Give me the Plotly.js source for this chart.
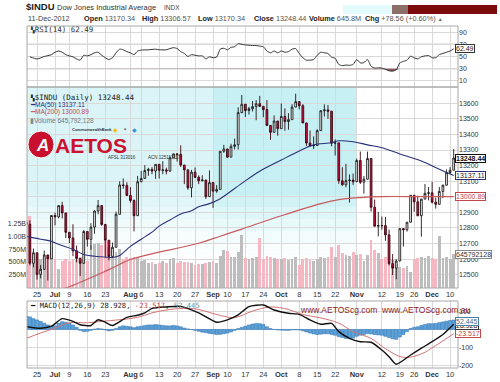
<!DOCTYPE html>
<html><head><meta charset="utf-8">
<script src="https://cdn.plot.ly/plotly-3.0.1.min.js"></script>
<style>html,body{margin:0;padding:0;background:#fff;}#chart{width:500px;height:382px;}</style>
</head><body><div id="chart"></div>
<script>
// ---------- DATA ----------
const dates = ['06-20','06-21','06-22','06-25','06-26','06-27','06-28','06-29',
'07-02','07-03','07-05','07-06','07-09','07-10','07-11','07-12','07-13','07-16','07-17','07-18','07-19','07-20','07-23','07-24','07-25','07-26','07-27','07-30','07-31',
'08-01','08-02','08-03','08-06','08-07','08-08','08-09','08-10','08-13','08-14','08-15','08-16','08-17','08-20','08-21','08-22','08-23','08-24','08-27','08-28','08-29','08-30','08-31',
'09-04','09-05','09-06','09-07','09-10','09-11','09-12','09-13','09-14','09-17','09-18','09-19','09-20','09-21','09-24','09-25','09-26','09-27','09-28',
'10-01','10-02','10-03','10-04','10-05','10-08','10-09','10-10','10-11','10-12','10-15','10-16','10-17','10-18','10-19','10-22','10-23','10-24','10-25','10-26','10-31',
'11-01','11-02','11-05','11-06','11-07','11-08','11-09','11-12','11-13','11-14','11-15','11-16','11-19','11-20','11-21','11-23','11-26','11-27','11-28','11-29','11-30',
'12-03','12-04','12-05','12-06','12-07','12-10','12-11'];

const prevClose0 = 12837.33;
const openP = [12837.33,12824.39,12573.57,12640.78,12502.66,12534.67,12627.01,12602.26,
12880.09,12871.39,12943.36,12896.67,12772.47,12736.29,12653.12,12604.53,12573.27,12777.09,12727.21,12805.54,12908.70,12943.33,12822.57,12721.46,12617.32,12676.05,12887.93,13075.66,13073.01,
13008.68,12976.13,12878.88,13096.17,13117.51,13168.60,13175.64,13165.19,13207.95,13169.43,13172.14,13164.78,13250.11,13275.20,13271.64,13203.58,13172.76,13057.46,13157.97,13124.67,13102.99,13107.48,13000.71,
13090.84,13035.94,13047.48,13292.00,13306.64,13254.29,13323.36,13333.35,13539.86,13593.37,13553.10,13564.64,13577.96,13596.93,13579.47,13558.92,13457.55,13413.51,13485.97,
13437.13,13515.11,13482.36,13494.61,13575.36,13610.15,13583.65,13473.53,13344.97,13326.39,13328.85,13424.23,13551.78,13557.00,13548.94,13343.51,13345.89,13102.53,13077.34,13103.68,13107.21,
13096.46,13232.62,13093.16,13112.44,13245.68,12932.73,12811.32,12815.39,12815.08,12756.18,12570.95,12542.38,12588.31,12795.96,12788.51,12836.89,13009.68,12967.37,12878.13,12985.11,13021.82,
13025.58,12965.60,12951.78,13034.49,13074.04,13155.13,13170.34];
const highP = [12902,12849,12668,12641,12563,12655,12627,12880,
12898,12945,12968,12897,12772,12824,12687,12606,12786,12777,12830,12913,12979,12943,12823,12721,12706,12905,13099,13118,13093,
13062,12983,13134,13166,13203,13186,13190,13208,13208,13228,13187,13260,13276,13276,13330,13204,13173,13173,13188,13137,13138,13107,13169,
13092,13075,13292,13333,13307,13340,13373,13574,13653,13593,13577,13614,13620,13647,13583,13620,13458,13522,13486,
13598,13567,13536,13594,13661,13610,13594,13474,13425,13387,13433,13554,13593,13588,13549,13368,13346,13189,13211,13143,13149,
13245,13290,13134,13290,13246,12982,12903,12873,12871,12789,12633,12600,12796,12796,12837,13010,13010,13007,12985,13082,13063,
13095,12994,13063,13078,13175,13190,13306.57];
const lowP = [12760,12560,12548,12469,12477,12535,12463,12602,
12817,12862,12861,12735,12703,12619,12580,12492,12573,12681,12659,12763,12888,12814,12613,12592,12617,12676,12887,13052,13005,
12962,12778,12877,13096,13118,13134,13145,13115,13117,13145,13144,13161,13247,13226,13191,13081,13045,12996,13119,13081,13099,12986,13001,
12929,13026,13047,13282,13251,13254,13304,13303,13536,13512,13527,13547,13491,13579,13510,13456,13365,13413,13392,
13437,13424,13430,13495,13575,13560,13473,13326,13326,13306,13328,13424,13515,13500,13324,13265,13083,13071,13061,12963,13076,
13096,13082,13020,13112,12905,12811,12746,12789,12718,12560,12498,12471,12588,12681,12777,12837,12904,12876,12744,12985,12977,
12957,12924,12950,12991,13074,13144,13170.34];
const closeP = [12824.39,12573.57,12640.78,12502.66,12534.67,12627.01,12602.26,12880.09,
12871.39,12943.36,12896.67,12772.47,12736.29,12653.12,12604.53,12573.27,12777.09,12727.21,12805.54,12908.70,12943.33,12822.57,12721.46,12617.32,12676.05,12887.93,13075.66,13073.01,13008.68,
12976.13,12878.88,13096.17,13117.51,13168.60,13175.64,13165.19,13207.95,13169.43,13172.14,13164.78,13250.11,13275.20,13271.64,13203.58,13172.76,13057.46,13157.97,13124.67,13102.99,13107.48,13000.71,13090.84,
13035.94,13047.48,13292.00,13306.64,13254.29,13323.36,13333.35,13539.86,13593.37,13553.10,13564.64,13577.96,13596.93,13579.47,13558.92,13457.55,13413.51,13485.97,13437.13,
13515.11,13482.36,13494.61,13575.36,13610.15,13583.65,13473.53,13344.97,13326.39,13328.85,13424.23,13551.78,13557.00,13548.94,13343.51,13345.89,13102.53,13077.34,13103.68,13107.21,13096.46,
13232.62,13093.16,13112.44,13245.68,12932.73,12811.32,12815.39,12815.08,12756.18,12570.95,12542.38,12588.31,12795.96,12788.51,12836.89,13009.68,12967.37,12878.13,12985.11,13021.82,13025.58,
12965.60,12951.78,13034.49,13074.04,13155.13,13169.88,13248.44];
// volume in millions
const volumeM = [1300,1380,640,600,560,600,640,780,
560,360,520,560,520,560,540,600,540,520,820,840,860,820,900,780,640,700,760,560,600,
580,600,580,520,540,480,500,460,480,520,480,560,580,480,520,500,500,480,440,460,460,480,500,
520,480,620,740,720,600,600,700,1020,580,560,580,600,960,560,620,600,580,560,
560,580,540,560,600,440,560,580,540,520,560,600,580,600,790,600,825,680,640,620,700,
640,660,520,640,920,730,680,560,600,560,540,460,400,380,420,300,560,580,600,580,620,
580,560,1000,580,600,560,645.8];

const ma50Idx = [0,4,7,9,13,16,20,24,26,29,32,35,37,40,43,46,48,51,54,60,65,71,76,80,85,87,91,95,99,104,110,115,119];
const ma50Val = [12747,12728,12715,12695,12663,12630,12617,12611,12624,12682,12728,12773,12812,12851,12890,12910,12936,12956,12988,13086,13164,13236,13294,13333,13346,13359,13353,13333,13314,13275,13229,13177,13137.11];
const ma200Idx = [6,11,23,29,48,54,60,71,82,87,93,99,110,119];
const ma200Val = [12385,12415,12533,12598,12702,12747,12793,12878,12956,12982,12995,13001,13001,13000.89];

const rsiIdx = [1,3,5,7,8,9,10,11,12,13,14,15,16,17,18,19,20,21,22,23,24,25,26,27,28,29,30,31,32,34,36,37,39,40,41,42,43,44,45,46,47,48,49,50,51,52,53,54,55,56,57,58,59,60,61,62,63,64,65,66,67,68,69,70,71,72,73,74,75,76,77,78,79,80,81,82,83,84,85,86,87,88,89,90,91,92,93,94,95,96,97,98,99,100,101,102,103,104,105,106,107,108,109,110,111,112,113,114,115,116,117,118,119];
const rsiVal = [49.5,46,50,53,57,59,57,53,51,49.5,46,44,52,51,53,56,57,52,48,45,48,56,62,61,58,56,53,59,60.5,61,62,61,61,63,64.5,63,58,55,50,53,52,51,51,46,49.5,48,49,62,63.5,61,65,66,71,70,69,68.5,68,68,67,66,59,56,59,56,59,57,58,62,63,55,48,44,44,45,52,57,56,55,49,47,37,35,36,35.5,37,45,39.5,40,45,34,31,31.5,31,29,26.5,26,28,39.5,42,44,50.5,48,46,49.5,51,51.5,48,48,53,55,57,59,62.49];

const macdIdx = [0,4,7,10,13,15,18,20,22,24,28,31,33,35,39,43,48,53,56,59,62,66,69,73,76,79,82,85,87,90,93,96,99,101,103,107,110,113,116,119];
const macdVal = [16,7,18,60,45,26,22,54,40,22,67,79,92,117,125,128,92,40,53,81,127,136,108,90,84,53,29,34,-12,-49,-68,-71,-114,-151,-193,-142,-104,-68,-28,28.928];
const sigIdx = [0,4,8,12,17,21,26,31,35,40,45,48,54,58,63,68,73,77,82,87,91,96,100,105,110,114,119];
const sigVal = [-49,-20,8,37,37,45,54,67,92,111,117,111,78,66,102,125,111,83,64,35,-12,-50,-107,-155,-136,-89,-23.517];
const histVal = [75,70,60,53,45,35,25,18,
20,35,43,40,35,25,12,-5,-12,-10,-5,2,5,3,-3,-8,-5,5,15,20,18,
15,10,15,18,22,25,25,27,25,22,20,20,22,20,15,8,3,0,-5,-10,-15,-18,-22,
-25,-28,-27,-24,-20,-14,-5,5,12,18,25,30,33,32,28,15,5,0,-3,
-4,-5,-5,-3,-2,-3,-8,-14,-20,-25,-28,-26,-24,-24,-28,-32,-40,-45,-50,-52,-48,
-38,-32,-28,-22,-25,-28,-30,-32,-38,-45,-52,-55,-42,-28,-12,5,12,15,22,28,32,
32,33,38,42,46,50,52.445];

const tickIdx  = [3,8,12,17,22,29,32,37,42,47,52,56,61,66,71,76,81,86,92,99,104,108,113,118];
const tickText = ['25','<b>Jul</b>','9','16','23','<b>Aug</b>','6','13','20','27','<b>Sep</b>','10','17','24','<b>Oct</b>','8','15','22','<b>Nov</b>','12','19','26','<b>Dec</b>','10'];
const priceTicks = [12500,12600,12700,12800,12900,13000,13100,13200,13300,13400,13500,13600];
const priceTickText = ['12500','12600','12700','12800','12900','','13100','13200','13300','13400','13500','13600'];
const volTicks = [250,500,750,1000,1250];
const volTickText = ['250M','500M','750M','1.00B','1.25B'];

// ---------- LAYOUT HELPERS ----------
const W=500,H=382,L=27,R=42,T=26,B=14;
const PW=W-L-R, PH=H-T-B;
const px = x => (x-L)/PW;
const py = y => (H-B-y)/PH;
const FONT = 'Liberation Sans, Arial, sans-serif';
const MONO = 'DejaVu Sans Mono, monospace';
const idx = closeP.map((_,i)=>i);
const volColors = closeP.map((c,i)=> c < (i===0?prevClose0:closeP[i-1]) ? '#f5b7c1' : '#bdbdbd');
const XR = [0.2,120.2];
const GRID = '#d9d9d9';

const traces = [
  {type:'bar', x:idx, y:volumeM, xaxis:'x2', yaxis:'y2', marker:{color:volColors, line:{width:0}}, width:0.78, hoverinfo:'skip'},
  {type:'scatter', mode:'lines', x:ma200Idx, y:ma200Val, xaxis:'x2', yaxis:'y4', line:{color:'#c85a5e', width:1.2, shape:'spline'}, hoverinfo:'skip'},
  {type:'scatter', mode:'lines', x:ma50Idx, y:ma50Val, xaxis:'x2', yaxis:'y4', line:{color:'#2b3079', width:1.1, shape:'spline'}, hoverinfo:'skip'},
  {type:'candlestick', x:idx, open:openP, high:highP, low:lowP, close:closeP, text:dates, xaxis:'x2', yaxis:'y4',
   increasing:{line:{color:'#1a1a1a', width:0.9}, fillcolor:'#ffffff'},
   decreasing:{line:{color:'#3a0610', width:0.9}, fillcolor:'#cc1443'}, whiskerwidth:0},
  // RSI
  {type:'scatter', mode:'lines', x:rsiIdx, y:rsiIdx.map(()=>30), xaxis:'x3', yaxis:'y3', line:{width:0}, hoverinfo:'skip'},
  {type:'scatter', mode:'lines', x:rsiIdx, y:rsiVal.map(v=>Math.min(v,30)), xaxis:'x3', yaxis:'y3', line:{width:0}, fill:'tonexty', fillcolor:'rgba(110,30,40,0.75)', hoverinfo:'skip'},
  {type:'scatter', mode:'lines', x:rsiIdx, y:rsiVal, xaxis:'x3', yaxis:'y3', line:{color:'#333', width:1, shape:'spline', smoothing:0.6}, hoverinfo:'skip'},
  // MACD
  {type:'bar', x:idx, y:histVal, xaxis:'x', yaxis:'y', marker:{color:'#5aa2da', line:{color:'#2e6fae', width:0.5}}, width:0.9, hoverinfo:'skip'},
  {type:'scatter', mode:'lines', x:sigIdx, y:sigVal, xaxis:'x', yaxis:'y', line:{color:'#d27373', width:1, shape:'spline'}, hoverinfo:'skip'},
  {type:'scatter', mode:'lines', x:macdIdx, y:macdVal, xaxis:'x', yaxis:'y', line:{color:'#111', width:1.4, shape:'spline', smoothing:0.6}, hoverinfo:'skip'}
];

const xCommon = {range:XR, tickvals:tickIdx, ticktext:tickText, tickangle:0, showgrid:true, gridcolor:GRID, gridwidth:1,
  zeroline:false, showline:false, ticks:'', tickfont:{family:FONT, size:7.5, color:'#333'}, fixedrange:true};
const dRSI=[py(87),1], dMAIN=[py(288),py(87)], dMACD=[0,py(301)];

const layout = {
  width:W, height:H, margin:{l:L,r:R,t:T,b:B}, paper_bgcolor:'#fff', plot_bgcolor:'rgba(0,0,0,0)',
  showlegend:false, bargap:0, hovermode:false,
  font:{family:FONT, size:7, color:'#333'},
  xaxis: Object.assign({}, xCommon, {anchor:'y', domain:[0,1]}),
  xaxis2: Object.assign({}, xCommon, {anchor:'y2', domain:[0,1], matches:'x', rangeslider:{visible:false}}),
  xaxis3: Object.assign({}, xCommon, {anchor:'y3', domain:[0,1], matches:'x', showticklabels:false}),
  yaxis: {domain:dMACD, anchor:'x', side:'right', range:[-214,158], tickvals:[-200,-100,0,100], ticktext:['-200','-100','','100'],
    showgrid:true, gridcolor:GRID, zeroline:false, ticks:'', tickfont:{family:FONT,size:7,color:'#333'}, fixedrange:true},
  yaxis2: {domain:dMAIN, anchor:'x2', side:'left', range:[0,3870], tickvals:volTicks, ticktext:volTickText,
    showgrid:false, zeroline:false, ticks:'', tickfont:{family:FONT,size:7,color:'#333'}, fixedrange:true},
  yaxis3: {domain:dRSI, anchor:'x3', side:'right', range:[0,100], tickvals:[10,30,50,70,90],
    showgrid:true, gridcolor:GRID, zeroline:false, ticks:'', tickfont:{family:FONT,size:7,color:'#333'}, fixedrange:true},
  yaxis4: {overlaying:'y2', anchor:'x2', side:'right', range:[12415,13704], tickvals:priceTicks, ticktext:priceTickText,
    showgrid:true, gridcolor:GRID, zeroline:false, ticks:'', tickfont:{family:FONT,size:7,color:'#333'}, fixedrange:true},
  shapes:[], annotations:[]
};

// cyan highlight zone (two tints, fading towards the bottom)
const bands = [[87,195,1],[195,207,0.8],[207,219,0.6],[219,231,0.4],[231,243,0.22],[243,255,0.1]];
bands.forEach(b=>{
  layout.shapes.push({type:'rect', layer:'below', xref:'x2', yref:'paper', x0:XR[0], x1:52, y0:py(b[1]), y1:py(b[0]),
    fillcolor:'#daf4f7', opacity:b[2], line:{width:0}});
  layout.shapes.push({type:'rect', layer:'below', xref:'x2', yref:'paper', x0:52, x1:92, y0:py(b[1]), y1:py(b[0]),
    fillcolor:'#c6f0f3', opacity:b[2], line:{width:0}});
});
// RSI reference lines
[[70,'solid','#8c8c8c'],[30,'solid','#8c8c8c'],[50,'dashdot','#9a9a9a']].forEach(r=>{
  layout.shapes.push({type:'line', layer:'between', xref:'paper', yref:'y3', x0:0, x1:1, y0:r[0], y1:r[0], line:{color:r[2], width:1, dash:r[1]}});
});
// panel borders
[[26,87],[87,288],[301,368]].forEach(p=>{
  layout.shapes.push({type:'rect', xref:'paper', yref:'paper', x0:0, x1:1, y0:py(p[1]), y1:py(p[0]), line:{color:'#a8a8a8', width:1}, fillcolor:'rgba(0,0,0,0)'});
});
// top-right colour strip
[[343,392,'#e3fbfd'],[392,408,'#8d6f6a'],[408,497,'#7b0b0b']].forEach(s=>{
  layout.shapes.push({type:'rect', xref:'paper', yref:'paper', x0:px(s[0]), x1:px(s[1]), y0:py(14), y1:py(5), fillcolor:s[2], line:{width:0}});
});
// logo circle
layout.shapes.push({type:'circle', xref:'paper', yref:'paper', x0:px(28), x1:px(54), y0:py(158), y1:py(131), fillcolor:'#c8102e', line:{color:'#ffffff', width:1}});

function A(text, x, y, o){
  const a = Object.assign({text:text, xref:'paper', yref:'paper', x:px(x), y:py(y), showarrow:false, xanchor:'left', yanchor:'middle',
    font:{family:FONT, size:7.5, color:'#333'}}, o||{});
  layout.annotations.push(a);
}
// header
A('<b>$INDU</b>', 24, 7, {font:{family:FONT,size:9.5,color:'#222'}});
A('Dow Jones Industrial Average', 55, 7.5, {font:{family:FONT,size:7.5,color:'#333'}});
A('INDX', 162, 7.5, {font:{family:FONT,size:6.5,color:'#444'}});
A('11-Dec-2012', 26, 18.5, {font:{family:FONT,size:7.3,color:'#444'}});
const HF = {family:FONT,size:7.3,color:'#222'};
A('<b>Open</b> <span style="color:#555">13170.34</span>', 82, 18.5, {font:HF});
A('<b>High</b> <span style="color:#555">13306.57</span>', 140, 18.5, {font:HF});
A('<b>Low</b> <span style="color:#555">13170.34</span>', 196, 18.5, {font:HF});
A('<b>Close</b> <span style="color:#555">13248.44</span>', 252, 18.5, {font:HF});
A('<b>Volume</b> <span style="color:#555">645.8M</span>', 307, 18.5, {font:HF});
A('<b>Chg</b> <span style="color:#555">+78.56 (+0.60%)</span> <span style="font-size:5px;color:#666">▲</span>', 363, 18.5, {font:HF});
// RSI legend
A('<span style="font-size:6px">▚</span>RSI(14) 62.49', 28, 29, {font:{family:MONO,size:7.5,color:'#333'}});
// main legend
A('<span style="font-size:6px">▚</span>$INDU (Daily) 13248.44', 28, 97.5, {font:{family:MONO,size:7.5,color:'#222'}});
A('<span style="color:#2b3079">━</span>MA(50) 13137.11', 28, 105, {font:{family:FONT,size:6.5,color:'#2b3079'}});
A('<span style="color:#c85a5e">━</span>MA(200) 13000.89', 28, 112.5, {font:{family:FONT,size:6.5,color:'#c0484d'}});
A('<span style="color:#888">▮</span>Volume 645,792,128', 28, 120, {font:{family:FONT,size:6.5,color:'#777'}});
// logo text
A('<b><i>A</i></b>', 34, 145, {font:{family:FONT,size:17,color:'#ffffff'}});
A('<b>AETOS</b>', 53, 145, {font:{family:FONT,size:21,color:'#cc1030'}});
A('<b>CommonwealthBank</b>', 70, 129.5, {font:{family:FONT,size:4,color:'#333'}});
A('◆', 111, 129.5, {font:{family:FONT,size:6,color:'#f0c010'}});
A('✦', 121, 129.5, {font:{family:FONT,size:4.5,color:'#777'}});
A('◆', 130, 129.5, {font:{family:FONT,size:5.5,color:'#3a8fd0'}});
A('AFSL 313016', 106, 157, {font:{family:FONT,size:4.5,color:'#333'}});
A('ACN 125113117', 146, 157, {font:{family:FONT,size:4.5,color:'#333'}});
// MACD legend
A('<span style="color:#111">━</span> MACD(12,26,9) 28.928, <span style="color:#c0484d">-23.517</span>, <span style="color:#6f9a9e">52.445</span>', 28, 305, {font:{family:MONO,size:7.2,color:'#222'}});
// watermark
A('www.AETOScg.com  www.AETOScg.com.au', 298, 309.5, {font:{family:FONT,size:8.5,color:'#8b1c1c'}});

// right-side value boxes
function box(text, yref, y, border, color, bold, ys){
  layout.annotations.push({text: bold?('<b>'+text+'</b>'):text, xref:'paper', yref:yref, x:1, y:y, xshift:-3, yshift:ys||0, showarrow:false,
    xanchor:'left', yanchor:'middle', bgcolor:'#ffffff', bordercolor:border, borderwidth:1, borderpad:0,
    font:{family:FONT, size:7, color:color}});
}
box('62.49','y3',62.49,'#333','#222',false);
box('645792128','y2',645.8,'#888','#333',false);
box('13000.89','y4',13000.89,'#c0484d','#c0484d',false);
box('13137.11','y4',13137.11,'#2b3079','#222',false);
box('13248.44','y4',13248.44,'#111','#111',true);
box('-23.517','y',-23.517,'#c0484d','#c0484d',false);
box('28.928','y',28.928,'#333','#222',false,-1);
box('52.445','y',52.445,'#4a7fa8','#4a6a80',false,-1);

Plotly.newPlot('chart', traces, layout, {staticPlot:true, displayModeBar:false});
</script>
</body></html>
